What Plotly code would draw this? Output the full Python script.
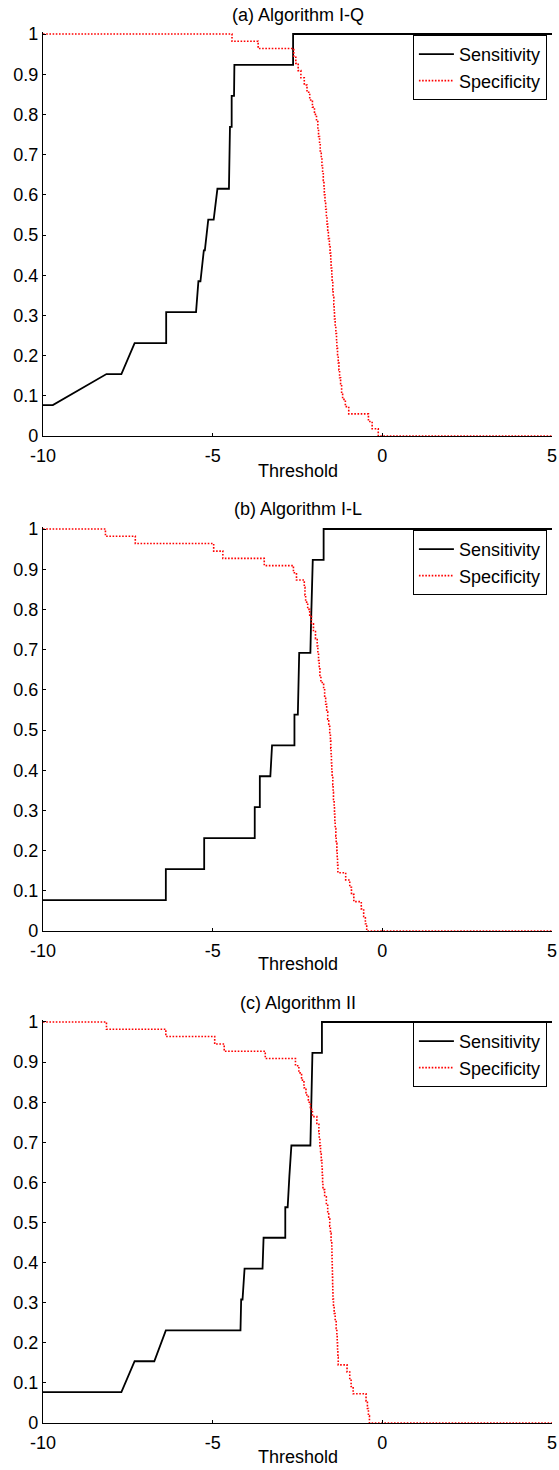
import plotly.graph_objects as go

# ---------------- data ----------------
titles = ["(a) Algorithm I-Q", "(b) Algorithm I-L", "(c) Algorithm II"]
x_ticks = [-10, -5, 0, 5]
x_tick_text = ["-10", "-5", "0", "5"]
y_ticks = [0, 0.1, 0.2, 0.3, 0.4, 0.5, 0.6, 0.7, 0.8, 0.9, 1]
y_tick_text = ["0", "0.1", "0.2", "0.3", "0.4", "0.5", "0.6", "0.7", "0.8", "0.9", "1"]

# Sensitivity (solid black) – points joined by straight lines
sens_a_x = [-10, -9.71, -8.13, -7.69, -7.30, -6.37, -6.37, -5.49, -5.42, -5.36, -5.26, -5.23, -5.13, -4.97, -4.86, -4.52, -4.49, -4.44, -4.44, -4.37, -4.36, -2.63, -2.63, 5]
sens_a_y = [0.077, 0.077, 0.154, 0.154, 0.231, 0.231, 0.308, 0.308, 0.385, 0.385, 0.462, 0.462, 0.538, 0.538, 0.615, 0.615, 0.769, 0.769, 0.846, 0.846, 0.923, 0.923, 1.0, 1.0]

sens_b_x = [-10, -6.38, -6.38, -5.25, -5.25, -3.76, -3.76, -3.61, -3.61, -3.30, -3.25, -2.59, -2.59, -2.49, -2.45, -2.12, -2.10, -2.07, -2.05, -1.73, -1.73, 5]
sens_b_y = [0.077, 0.077, 0.154, 0.154, 0.231, 0.231, 0.308, 0.308, 0.385, 0.385, 0.462, 0.462, 0.538, 0.538, 0.692, 0.692, 0.769, 0.846, 0.923, 0.923, 1.0, 1.0]

sens_c_x = [-10, -7.69, -7.30, -6.72, -6.38, -4.18, -4.16, -4.12, -4.06, -3.53, -3.50, -2.86, -2.86, -2.79, -2.74, -2.68, -2.12, -2.10, -2.07, -2.06, -1.78, -1.78, 5]
sens_c_y = [0.077, 0.077, 0.154, 0.154, 0.231, 0.231, 0.308, 0.308, 0.385, 0.385, 0.462, 0.462, 0.538, 0.538, 0.615, 0.692, 0.692, 0.769, 0.846, 0.923, 0.923, 1.0, 1.0]

# Specificity (dotted red) – step levels
spec_y = [1.000, 0.982, 0.964, 0.945, 0.927, 0.909, 0.891, 0.873, 0.855, 0.836,
          0.818, 0.800, 0.782, 0.764, 0.745, 0.727, 0.709, 0.691, 0.673, 0.655,
          0.636, 0.618, 0.600, 0.582, 0.564, 0.545, 0.527, 0.509, 0.491, 0.473,
          0.455, 0.436, 0.418, 0.400, 0.382, 0.364, 0.345, 0.327, 0.309, 0.291,
          0.273, 0.255, 0.236, 0.218, 0.200, 0.182, 0.164, 0.145, 0.127, 0.109,
          0.091, 0.073, 0.055, 0.036, 0.018, 0.000, 0.000]

spec_a_x = [-10, -4.43, -3.66, -2.61, -2.55, -2.48, -2.40, -2.30, -2.22, -2.14,
            -2.06, -2.00, -1.94, -1.90, -1.88, -1.85, -1.83, -1.80, -1.78, -1.76,
            -1.74, -1.72, -1.71, -1.69, -1.67, -1.65, -1.63, -1.61, -1.59, -1.56,
            -1.54, -1.52, -1.51, -1.49, -1.48, -1.46, -1.45, -1.43, -1.42, -1.41,
            -1.39, -1.37, -1.35, -1.34, -1.32, -1.30, -1.28, -1.26, -1.23, -1.20,
            -1.17, -1.09, -0.99, -0.41, -0.30, -0.12, 5]

spec_b_x = [-10, -8.16, -7.28, -4.97, -4.70, -3.48, -2.62, -2.53, -2.30, -2.28,
            -2.26, -2.20, -2.14, -2.09, -2.03, -1.97, -1.92, -1.90, -1.88, -1.86,
            -1.84, -1.81, -1.73, -1.70, -1.67, -1.64, -1.61, -1.58, -1.55, -1.53,
            -1.52, -1.51, -1.50, -1.49, -1.48, -1.46, -1.45, -1.44, -1.42, -1.41,
            -1.40, -1.39, -1.37, -1.36, -1.34, -1.33, -1.32, -1.31, -1.08, -0.96,
            -0.91, -0.84, -0.62, -0.55, -0.50, -0.46, 5]

spec_c_x = [-10, -8.13, -6.38, -4.94, -4.66, -3.45, -2.56, -2.46, -2.38, -2.31,
            -2.25, -2.18, -2.12, -2.06, -1.93, -1.87, -1.86, -1.84, -1.82, -1.80,
            -1.78, -1.77, -1.76, -1.75, -1.70, -1.65, -1.61, -1.58, -1.55, -1.53,
            -1.51, -1.49, -1.485, -1.48, -1.475, -1.47, -1.465, -1.46, -1.455, -1.44,
            -1.42, -1.39, -1.36, -1.34, -1.33, -1.32, -1.31, -1.30, -1.04, -0.96,
            -0.92, -0.86, -0.48, -0.44, -0.41, -0.38, 5]

sens_x = [sens_a_x, sens_b_x, sens_c_x]
sens_y = [sens_a_y, sens_b_y, sens_c_y]
spec_x = [spec_a_x, spec_b_x, spec_c_x]

# ---------------- layout geometry (pixels) ----------------
W, H = 559, 1470
L, R = 43, 7
panel_px = [(436, 34), (931, 529), (1423, 1022)]   # (y=0 pixel, y=1 pixel)
title_px = [15, 509, 1003]
xlabel_px = [471, 964, 1457]
legend_top_px = [35, 530, 1022]
YTOP = 1.005

FONT = "Liberation Sans, Arial, sans-serif"
FS = 18

fig = go.Figure()
layout = dict(
    width=W, height=H,
    margin=dict(l=L, r=R, t=0, b=0, pad=0, autoexpand=False),
    paper_bgcolor="white", plot_bgcolor="white",
    font=dict(family=FONT, size=FS, color="black"),
    annotations=[],
)

for i in range(3):
    n = "" if i == 0 else str(i + 1)
    y0, y1 = panel_px[i]
    per = (y0 - y1)
    top_px = y1 - (YTOP - 1) * per
    dom = [1 - y0 / H, 1 - top_px / H]
    lg = "legend" + n
    fig.add_trace(go.Scatter(
        x=sens_x[i], y=sens_y[i], mode="lines", name="Sensitivity",
        line=dict(color="black", width=1.8),
        xaxis="x" + n, yaxis="y" + n, legend=lg))
    fig.add_trace(go.Scatter(
        x=spec_x[i], y=spec_y, mode="lines", name="Specificity",
        line=dict(color="red", width=1.6, dash="1.6px,1.6px", shape="hv"),
        xaxis="x" + n, yaxis="y" + n, legend=lg))

    layout["xaxis" + n] = dict(
        domain=[0, 1], range=[-10, 5], anchor="y" + n,
        tickvals=x_ticks, ticktext=x_tick_text,
        ticks="inside", ticklen=3, tickwidth=1, tickcolor="black",
        ticklabelstandoff=3, automargin=False,
        showline=True, linecolor="black", linewidth=1.3, showgrid=False, zeroline=False,
        tickfont=dict(size=FS), fixedrange=True)
    layout["yaxis" + n] = dict(
        domain=dom, range=[0, YTOP], anchor="x" + n,
        tickvals=y_ticks, ticktext=y_tick_text, automargin=False,
        ticks="inside", ticklen=3, tickwidth=1, tickcolor="black",
        showline=True, linecolor="black", linewidth=1.3, showgrid=False, zeroline=False,
        tickfont=dict(size=FS), fixedrange=True)
    layout[lg] = dict(
        x=0.99, xanchor="right", y=1 - legend_top_px[i] / H, yanchor="top",
        bgcolor="white", bordercolor="black", borderwidth=1,
        font=dict(size=FS), itemwidth=35, tracegroupgap=0)
    layout["annotations"].append(dict(
        text=titles[i], xref="paper", yref="paper", x=0.5, y=1 - title_px[i] / H,
        xanchor="center", yanchor="middle", showarrow=False, font=dict(size=FS)))
    layout["annotations"].append(dict(
        text="Threshold", xref="paper", yref="paper", x=0.5, y=1 - xlabel_px[i] / H,
        xanchor="center", yanchor="middle", showarrow=False, font=dict(size=FS)))

fig.update_layout(**layout)
fig.write_html("out.html")
